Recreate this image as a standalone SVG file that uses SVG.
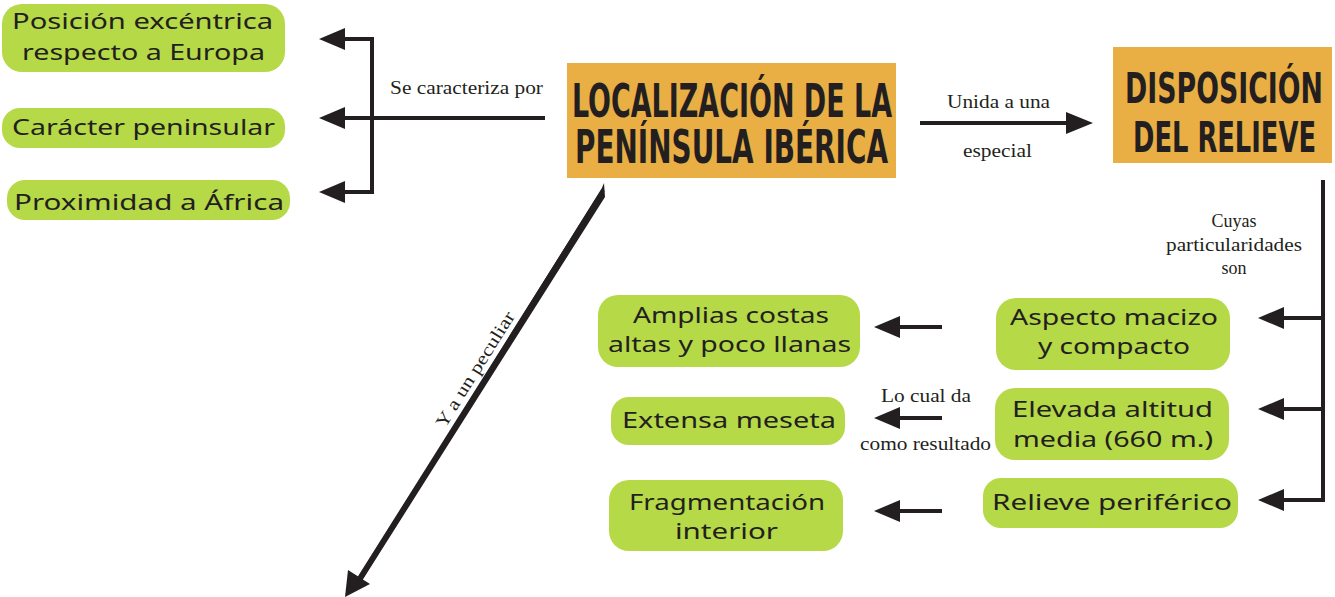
<svg xmlns="http://www.w3.org/2000/svg" width="1335" height="597" viewBox="0 0 1335 597">
<defs>
<style>
.g{fill:#b6d947}
.o{fill:#e9ae44}
.t{font-family:"Noto Sans","DejaVu Sans",sans-serif;font-size:22px;fill:#231f20}
.h{font-family:"DejaVu Sans Condensed","Liberation Sans Narrow","DejaVu Sans",sans-serif;font-weight:bold;fill:#231f20}
.s{font-family:"Liberation Serif",serif;font-size:18px;fill:#231f20}
.ln{stroke:#231f20;stroke-width:4;fill:none}
.ah{fill:#231f20}
</style>
</defs>
<rect width="1335" height="597" fill="#ffffff"/>

<g id="connectors">
  <!-- left bracket -->
  <path class="ln" d="M343,39 H372 V192 H343"/>
  <path class="ln" d="M343,118 H545"/>
  <polygon class="ah" points="319,39 345,28 345,50"/>
  <polygon class="ah" points="319,118 345,107 345,129"/>
  <polygon class="ah" points="319,192 345,181 345,203"/>
  <!-- right arrow -->
  <path class="ln" d="M920,123 H1070"/>
  <polygon class="ah" points="1093,123 1066,112 1066,134"/>
  <!-- right bracket -->
  <path class="ln" d="M1323,180 V500 H1282"/>
  <path class="ln" d="M1282,318 H1323"/>
  <path class="ln" d="M1282,409 H1323"/>
  <polygon class="ah" points="1258,318 1284,307 1284,329"/>
  <polygon class="ah" points="1258,409 1284,398 1284,420"/>
  <polygon class="ah" points="1258,500 1284,489 1284,511"/>
  <!-- middle arrows -->
  <path class="ln" d="M895,327 H942"/>
  <path class="ln" d="M895,418 H942"/>
  <path class="ln" d="M895,511 H942"/>
  <polygon class="ah" points="874,327 900,316 900,338"/>
  <polygon class="ah" points="874,418 900,407 900,429"/>
  <polygon class="ah" points="874,511 900,500 900,522"/>
  <!-- diagonal arrow -->
  <polygon class="ah" points="604,183 605,197 360,584 355,581 601,190"/>
  <path class="ln" d="M603,190 L358,583"/>
  <polygon class="ah" points="345,597 348,570 370,584"/>
  <!-- labels -->
  <text class="s" x="390" y="94" textLength="153" lengthAdjust="spacingAndGlyphs">Se caracteriza por</text>
  <text class="s" x="947" y="108" textLength="103" lengthAdjust="spacingAndGlyphs">Unida a una</text>
  <text class="s" x="963" y="157" textLength="69" lengthAdjust="spacingAndGlyphs">especial</text>
  <text class="s" x="1234" y="227" text-anchor="middle">Cuyas</text>
  <text class="s" x="1166" y="251" textLength="136" lengthAdjust="spacingAndGlyphs">particularidades</text>
  <text class="s" x="1234" y="274" text-anchor="middle">son</text>
  <text class="s" x="881" y="402" textLength="90" lengthAdjust="spacingAndGlyphs">Lo cual da</text>
  <text class="s" x="860" y="450" textLength="131" lengthAdjust="spacingAndGlyphs">como resultado</text>
  <text class="s" transform="translate(480,373) rotate(-58)" x="-66" y="0" textLength="133" lengthAdjust="spacingAndGlyphs">Y a un peculiar</text>
</g>

<g id="n-localizacion">
  <rect class="o" x="567" y="63" width="329" height="115"/>
  <text class="h" font-size="28" transform="translate(572,117) scale(1,1.65)" textLength="320" lengthAdjust="spacingAndGlyphs">LOCALIZACIÓN DE LA</text>
  <text class="h" font-size="28" transform="translate(575,163) scale(1,1.65)" textLength="313" lengthAdjust="spacingAndGlyphs">PENÍNSULA IBÉRICA</text>
</g>

<g id="n-disposicion">
  <rect class="o" x="1113" y="47" width="219" height="116"/>
  <text class="h" font-size="27" transform="translate(1125,103) scale(1,1.55)" textLength="198" lengthAdjust="spacingAndGlyphs">DISPOSICIÓN</text>
  <text class="h" font-size="27" transform="translate(1133,152) scale(1,1.55)" textLength="183" lengthAdjust="spacingAndGlyphs">DEL RELIEVE</text>
</g>

<g id="n-posicion">
  <rect class="g" x="2" y="4" width="283" height="68" rx="20"/>
  <text class="t" x="12" y="29" textLength="261" lengthAdjust="spacingAndGlyphs">Posición excéntrica</text>
  <text class="t" x="22" y="60" textLength="243" lengthAdjust="spacingAndGlyphs">respecto a Europa</text>
</g>

<g id="n-caracter">
  <rect class="g" x="2" y="108" width="283" height="40" rx="18"/>
  <text class="t" x="12" y="135" textLength="263" lengthAdjust="spacingAndGlyphs">Carácter peninsular</text>
</g>

<g id="n-proximidad">
  <rect class="g" x="7" y="180" width="283" height="40" rx="18"/>
  <text class="t" x="14" y="210" textLength="270" lengthAdjust="spacingAndGlyphs">Proximidad a África</text>
</g>

<g id="n-amplias">
  <rect class="g" x="598" y="295" width="262" height="72" rx="20"/>
  <text class="t" x="633" y="323" textLength="196" lengthAdjust="spacingAndGlyphs">Amplias costas</text>
  <text class="t" x="608" y="352" textLength="243" lengthAdjust="spacingAndGlyphs">altas y poco llanas</text>
</g>

<g id="n-meseta">
  <rect class="g" x="611" y="397" width="234" height="48" rx="18"/>
  <text class="t" x="622" y="428" textLength="214" lengthAdjust="spacingAndGlyphs">Extensa meseta</text>
</g>

<g id="n-fragmentacion">
  <rect class="g" x="609" y="480" width="234" height="71" rx="20"/>
  <text class="t" x="629" y="510" textLength="196" lengthAdjust="spacingAndGlyphs">Fragmentación</text>
  <text class="t" x="675" y="539" textLength="103" lengthAdjust="spacingAndGlyphs">interior</text>
</g>

<g id="n-aspecto">
  <rect class="g" x="996" y="298" width="234" height="72" rx="20"/>
  <text class="t" x="1010" y="325" textLength="208" lengthAdjust="spacingAndGlyphs">Aspecto macizo</text>
  <text class="t" x="1038" y="354" textLength="152" lengthAdjust="spacingAndGlyphs">y compacto</text>
</g>

<g id="n-elevada">
  <rect class="g" x="995" y="388" width="234" height="72" rx="20"/>
  <text class="t" x="1012" y="417" textLength="201" lengthAdjust="spacingAndGlyphs">Elevada altitud</text>
  <text class="t" x="1013" y="447" textLength="200" lengthAdjust="spacingAndGlyphs">media (660 m.)</text>
</g>

<g id="n-relieve">
  <rect class="g" x="983" y="478" width="255" height="50" rx="18"/>
  <text class="t" x="992" y="510" textLength="240" lengthAdjust="spacingAndGlyphs">Relieve periférico</text>
</g>
</svg>
